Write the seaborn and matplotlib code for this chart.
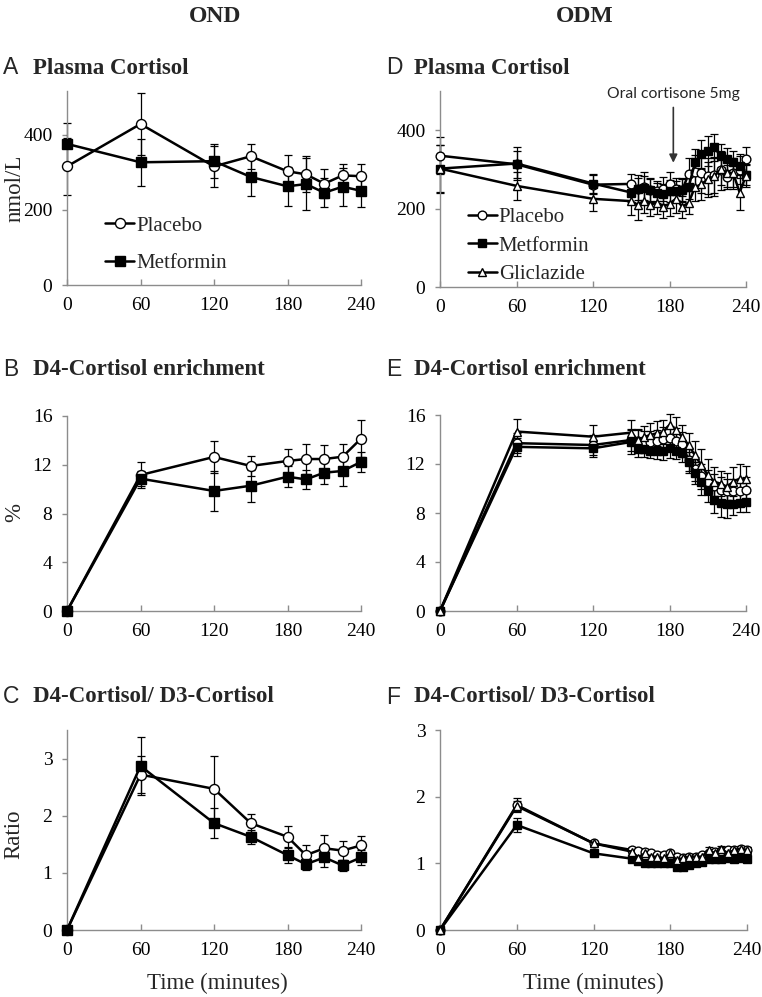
import matplotlib
matplotlib.use("Agg")
import matplotlib.pyplot as plt
import seaborn as sns
import pandas as pd

# ---- data ----
t_ond = [0, 60, 120, 150, 180, 195, 210, 225, 240]
t_odm = [0, 60, 120, 150, 155, 160, 165, 170, 175, 180, 185, 190, 195,
         200, 205, 210, 215, 220, 225, 230, 235, 240]

# A: OND plasma cortisol (nmol/L)
a_placebo = [316, 429, 316, 343, 303, 295, 270, 292, 290]
a_placebo_err = [76, 82, 55, 33, 43, 48, 39, 31, 33]
a_metformin = [376, 327, 330, 288, 263, 269, 246, 262, 251]
a_metformin_err = [55, 63, 45, 51, 52, 70, 39, 51, 44]

# B: OND D4-cortisol enrichment (%)
b_placebo = [0, 11.16, 12.64, 11.9, 12.31, 12.47, 12.47, 12.66, 14.14]
b_placebo_err = [0, 1.04, 1.3, 0.85, 0.95, 1.2, 1.15, 1.07, 1.5]
b_metformin = [0, 10.86, 9.85, 10.28, 11.02, 10.8, 11.35, 11.49, 12.23]
b_metformin_err = [0, 0.6, 1.62, 1.31, 0.87, 0.79, 0.93, 1.21, 0.83]

# C: OND D4/D3 ratio
c_placebo = [0, 2.72, 2.47, 1.87, 1.63, 1.31, 1.43, 1.39, 1.48]
c_placebo_err = [0, 0.33, 0.58, 0.16, 0.19, 0.18, 0.23, 0.16, 0.17]
c_metformin = [0, 2.87, 1.87, 1.63, 1.31, 1.15, 1.27, 1.13, 1.27]
c_metformin_err = [0, 0.51, 0.26, 0.12, 0.14, 0.1, 0.17, 0.1, 0.13]

# D: ODM plasma cortisol (nmol/L)
d_placebo = [335, 313, 261, 263, 250, 255, 248, 245, 250, 264, 250, 248, 288,
             293, 290, 283, 285, 298, 281, 290, 298, 326]
d_placebo_err = [48, 35, 25, 25, 35, 38, 30, 25, 30, 30, 28, 30, 40,
                 45, 50, 45, 45, 50, 30, 35, 35, 30]
d_metformin = [302, 315, 264, 241, 250, 252, 248, 240, 238, 246, 245, 248, 254,
               318, 339, 347, 356, 335, 326, 318, 309, 285]
d_metformin_err = [60, 43, 24, 25, 28, 30, 28, 25, 25, 28, 25, 28, 30,
                   35, 35, 38, 34, 30, 28, 30, 30, 25]
d_gliclazide = [302, 258, 225, 219, 210, 220, 210, 215, 205, 212, 225, 205, 215,
                255, 262, 275, 282, 300, 292, 290, 241, 284]
d_gliclazide_err = [61, 36, 32, 35, 40, 30, 30, 28, 28, 30, 35, 28, 30,
                    35, 40, 45, 50, 40, 38, 40, 45, 30]

# E: ODM D4-cortisol enrichment (%)
e_placebo = [0, 13.7, 13.55, 13.96, 13.9, 13.8, 13.8, 13.9, 14.0, 14.1, 13.9, 13.6,
             12.3, 11.6, 11.0, 10.5, 10.2, 9.9, 9.8, 9.8, 9.8, 9.9]
e_placebo_err = [0, 0.8, 0.8, 0.9, 0.9, 0.9, 0.9, 0.9, 1.0, 1.0, 1.0, 1.0,
                 1.0, 1.0, 1.0, 1.0, 1.0, 1.0, 1.0, 1.0, 1.0, 1.0]
e_metformin = [0, 13.4, 13.28, 13.8, 13.2, 13.2, 13.1, 13.1, 13.1, 13.3, 13.1, 12.9,
               12.2, 11.25, 10.55, 9.88, 9.07, 8.8, 8.7, 8.75, 8.85, 8.9]
e_metformin_err = [0, 0.75, 0.7, 0.95, 0.6, 0.6, 0.6, 0.7, 0.8, 0.8, 0.7, 0.7,
                   0.8, 0.9, 1.1, 1.0, 1.1, 1.1, 1.1, 0.9, 0.8, 0.8]
e_gliclazide = [0, 14.65, 14.23, 14.56, 13.96, 14.2, 14.37, 14.5, 14.6, 15.2, 14.8, 14.2,
                13.55, 12.7, 11.9, 11.1, 10.55, 10.4, 10.15, 10.55, 10.8, 10.75]
e_gliclazide_err = [0, 1.0, 0.95, 1.0, 0.9, 0.9, 1.0, 1.0, 1.0, 0.9, 1.0, 1.0,
                    1.0, 1.2, 1.3, 1.3, 1.2, 1.0, 1.1, 1.2, 1.2, 1.1]

# F: ODM D4/D3 ratio
f_placebo = [0, 1.875, 1.3, 1.2, 1.19, 1.17, 1.15, 1.13, 1.12, 1.15, 1.1, 1.08,
             1.1, 1.1, 1.12, 1.15, 1.17, 1.18, 1.2, 1.2, 1.22, 1.2]
f_placebo_err = [0, 0.1, 0.04, 0.04, 0.04, 0.04, 0.04, 0.04, 0.04, 0.04, 0.04, 0.04,
                 0.04, 0.04, 0.04, 0.04, 0.04, 0.04, 0.04, 0.04, 0.04, 0.04]
f_metformin = [0, 1.575, 1.15, 1.07, 1.03, 1.0, 1.0, 1.0, 1.0, 1.0, 0.95, 0.95,
               0.975, 1.0, 1.02, 1.06, 1.07, 1.07, 1.08, 1.07, 1.08, 1.06]
f_metformin_err = [0, 0.1, 0.04, 0.04, 0.04, 0.04, 0.04, 0.04, 0.04, 0.04, 0.04, 0.04,
                   0.04, 0.04, 0.04, 0.04, 0.04, 0.04, 0.04, 0.04, 0.04, 0.04]
f_gliclazide = [0, 1.86, 1.3, 1.175, 1.08, 1.15, 1.1, 1.1, 1.075, 1.15, 1.05, 1.08,
                1.1, 1.1, 1.1, 1.2, 1.15, 1.22, 1.15, 1.2, 1.22, 1.2]
f_gliclazide_err = [0, 0.08, 0.04, 0.04, 0.04, 0.04, 0.04, 0.04, 0.04, 0.04, 0.04, 0.04,
                    0.04, 0.04, 0.04, 0.04, 0.04, 0.04, 0.04, 0.04, 0.04, 0.04]

# ---- style ----
sns.set_style("ticks")
plt.rcParams['font.family'] = ['Liberation Serif', 'DejaVu Serif']
GRAY = '#8c8c8c'

W, H = 762, 997
fig = plt.figure(figsize=(W / 100, H / 100), dpi=100)


def px_axes(left, right, top, bottom):
    return fig.add_axes([left / W, 1 - bottom / H, (right - left) / W, (bottom - top) / H])


MARKERS = {'Placebo': ('o', 'white'), 'Metformin': ('s', 'black'), 'Gliclazide': ('^', 'white')}


def draw_series(ax, times, vals, errs, name, ms):
    df = pd.DataFrame({'time': times, 'value': vals})
    ax.errorbar(times, vals, yerr=errs, fmt='none', ecolor='black', elinewidth=0.9,
                capsize=3, capthick=0.9, zorder=2, clip_on=False)
    marker, face = MARKERS[name]
    sns.lineplot(data=df, x='time', y='value', ax=ax, color='black', linewidth=1.8,
                 marker=marker, markersize=ms, markerfacecolor=face,
                 markeredgecolor='black', markeredgewidth=1.0, label=name,
                 clip_on=False, zorder=3)


def style_axes(ax, ymax, yticks):
    ax.set_xlim(0, 240)
    ax.set_ylim(0, ymax)
    ax.set_xticks([0, 60, 120, 180, 240])
    ax.set_yticks(yticks)
    ax.set_xlabel('')
    ax.set_ylabel('')
    sns.despine(ax=ax)
    for s in ['left', 'bottom']:
        ax.spines[s].set_color(GRAY)
        ax.spines[s].set_linewidth(1.0)
    ax.tick_params(axis='both', colors=GRAY, labelcolor='black', labelsize=14,
                   width=1.0)
    ax.tick_params(axis='x', direction='in', length=4, pad=8.5)
    ax.tick_params(axis='y', direction='out', length=3.5, pad=7)


panels = [
    # (axes px box, ymax, yticks, times, series list, marker size, key)
    ((67, 361, 91, 285), 517, [0, 200, 400], t_ond,
     [('Placebo', a_placebo, a_placebo_err), ('Metformin', a_metformin, a_metformin_err)], 7.2, 'A'),
    ((67, 361, 416, 611), 16, [0, 4, 8, 12, 16], t_ond,
     [('Placebo', b_placebo, b_placebo_err), ('Metformin', b_metformin, b_metformin_err)], 7.2, 'B'),
    ((67, 361, 730, 930), 3.5, [0, 1, 2, 3], t_ond,
     [('Placebo', c_placebo, c_placebo_err), ('Metformin', c_metformin, c_metformin_err)], 7.2, 'C'),
    ((440, 746, 91, 287), 500, [0, 200, 400], t_odm,
     [('Placebo', d_placebo, d_placebo_err), ('Metformin', d_metformin, d_metformin_err),
      ('Gliclazide', d_gliclazide, d_gliclazide_err)], 6.3, 'D'),
    ((440, 746, 415, 611), 16, [0, 4, 8, 12, 16], t_odm,
     [('Placebo', e_placebo, e_placebo_err), ('Metformin', e_metformin, e_metformin_err),
      ('Gliclazide', e_gliclazide, e_gliclazide_err)], 6.3, 'E'),
    ((440, 747, 730, 930), 3, [0, 1, 2, 3], t_odm,
     [('Placebo', f_placebo, f_placebo_err), ('Metformin', f_metformin, f_metformin_err),
      ('Gliclazide', f_gliclazide, f_gliclazide_err)], 6.3, 'F'),
]

axes = {}
for box, ymax, yticks, times, series, ms, key in panels:
    ax = px_axes(*box)
    for name, vals, errs in series:
        draw_series(ax, times, vals, errs, name, ms)
    style_axes(ax, ymax, yticks)
    if ax.get_legend() is not None:
        ax.get_legend().remove()
    axes[key] = ax

# legends
axes['A'].legend(loc='upper left', bbox_to_anchor=(0.13, 0.355), frameon=False,
                 fontsize=15, handlelength=1.4, handletextpad=0.1, labelspacing=0.85,
                 borderpad=0, borderaxespad=0, numpoints=1)
axes['D'].legend(loc='upper left', bbox_to_anchor=(0.09, 0.405), frameon=False,
                 fontsize=15, handlelength=1.4, handletextpad=0.1, labelspacing=0.42,
                 borderpad=0, borderaxespad=0, numpoints=1)

# cortisone arrow in D
axes['D'].annotate('', xy=(183, 317), xytext=(183, 458),
                   arrowprops=dict(arrowstyle='-|>', color='#333333', lw=1.2,
                                   mutation_scale=12, shrinkA=0, shrinkB=0))
axes['D'].text(183, 492, 'Oral cortisone 5mg', ha='center', va='center',
               fontsize=11.3, family=['Lato', 'DejaVu Sans'])

# column headings
fig.text(215 / W, 1 - 17 / H, 'OND', ha='center', va='center', fontsize=17, fontweight='bold')
fig.text(585 / W, 1 - 17 / H, 'ODM', ha='center', va='center', fontsize=17, fontweight='bold')

# panel titles
titles = [('A', 'Plasma Cortisol', 3, 33, 68), ('B', 'D4-Cortisol enrichment', 3, 33, 369),
          ('C', 'D4-Cortisol/ D3-Cortisol', 3, 33, 696), ('D', 'Plasma Cortisol', 386, 414, 68),
          ('E', 'D4-Cortisol enrichment', 386, 414, 369), ('F', 'D4-Cortisol/ D3-Cortisol', 386, 414, 697)]
for letter, title, lx, tx, y in titles:
    fig.text(lx / W, 1 - y / H, letter, ha='left', va='center', fontsize=16.5,
             family=['Liberation Sans', 'DejaVu Sans'])
    fig.text(tx / W, 1 - y / H, title, ha='left', va='center', fontsize=16.5, fontweight='bold')

# axis labels
fig.text(15 / W, 1 - 188 / H, 'nmol/L', rotation=90, ha='center', va='center', fontsize=16.5)
fig.text(15 / W, 1 - 512 / H, '%', rotation=90, ha='center', va='center', fontsize=16.5)
fig.text(14 / W, 1 - 834 / H, 'Ratio', rotation=90, ha='center', va='center', fontsize=16.5)
fig.text(217 / W, 1 - 983 / H, 'Time (minutes)', ha='center', va='center', fontsize=16.5)
fig.text(593 / W, 1 - 983 / H, 'Time (minutes)', ha='center', va='center', fontsize=16.5)

fig.savefig('out.png', dpi=100)
